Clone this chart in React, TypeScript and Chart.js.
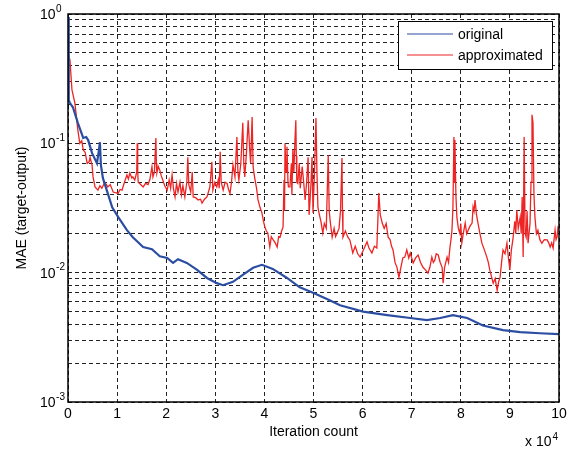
import React, { useEffect, useRef } from "react";
import { Chart, registerables } from "chart.js";
Chart.register(...registerables);

// iterations in units of 10^4
const iterOrig = [0, 0.01, 0.02, 0.04, 0.1, 0.2, 0.31, 0.37, 0.41, 0.49, 0.59, 0.63, 0.65, 0.67, 0.71, 0.81, 0.9, 1.02, 1.2, 1.32, 1.53, 1.71, 1.87, 2.02, 2.14, 2.24, 2.42, 2.63, 2.83, 3.03, 3.16, 3.36, 3.56, 3.77, 3.95, 4.17, 4.46, 4.72, 4.99, 5.34, 5.54, 6.01, 6.5, 6.97, 7.31, 7.58, 7.84, 8.13, 8.45, 8.86, 9.21, 9.61, 10];
const maeOrig = [0.95, 0.44, 0.216, 0.205, 0.19, 0.144, 0.11, 0.112, 0.106, 0.084, 0.07, 0.089, 0.102, 0.068, 0.054, 0.041, 0.032, 0.027, 0.0213, 0.0188, 0.0158, 0.0152, 0.0134, 0.013, 0.0119, 0.0127, 0.0119, 0.0105, 0.0091, 0.0083, 0.008, 0.0085, 0.0096, 0.0109, 0.0115, 0.0107, 0.0091, 0.0077, 0.007, 0.0061, 0.0056, 0.005, 0.0047, 0.00446, 0.0043, 0.00446, 0.0047, 0.00446, 0.0039, 0.0036, 0.00347, 0.0034, 0.00335];

const iterApprox = [0, 0.01, 0.04, 0.08, 0.14, 0.18, 0.2, 0.24, 0.28, 0.31, 0.35, 0.39, 0.43, 0.45, 0.49, 0.51, 0.55, 0.61, 0.65, 0.69, 0.75, 0.81, 0.86, 0.92, 1.02, 1.06, 1.1, 1.15, 1.2, 1.23, 1.26, 1.3, 1.32, 1.36, 1.4, 1.41, 1.42, 1.43, 1.48, 1.53, 1.58, 1.63, 1.67, 1.71, 1.73, 1.76, 1.79, 1.8, 1.81, 1.84, 1.87, 1.9, 1.93, 1.97, 2.02, 2.06, 2.09, 2.12, 2.15, 2.18, 2.21, 2.24, 2.28, 2.31, 2.34, 2.38, 2.42, 2.44, 2.46, 2.5, 2.53, 2.55, 2.6, 2.65, 2.7, 2.73, 2.78, 2.83, 2.86, 2.89, 2.93, 2.95, 2.99, 3.03, 3.06, 3.08, 3.1, 3.12, 3.16, 3.2, 3.24, 3.27, 3.3, 3.33, 3.36, 3.4, 3.44, 3.46, 3.48, 3.52, 3.56, 3.58, 3.6, 3.63, 3.67, 3.7, 3.72, 3.75, 3.77, 3.79, 3.81, 3.84, 3.87, 3.91, 3.95, 3.98, 4.01, 4.04, 4.07, 4.11, 4.14, 4.18, 4.22, 4.26, 4.29, 4.32, 4.35, 4.38, 4.4, 4.41, 4.42, 4.44, 4.46, 4.48, 4.49, 4.52, 4.55, 4.56, 4.58, 4.6, 4.62, 4.64, 4.65, 4.66, 4.68, 4.71, 4.73, 4.77, 4.8, 4.83, 4.86, 4.89, 4.91, 4.93, 4.95, 4.97, 4.99, 5.02, 5.05, 5.07, 5.09, 5.12, 5.15, 5.19, 5.22, 5.26, 5.3, 5.32, 5.34, 5.38, 5.42, 5.45, 5.48, 5.52, 5.55, 5.58, 5.59, 5.6, 5.65, 5.7, 5.74, 5.77, 5.8, 5.85, 5.9, 5.95, 6.0, 6.05, 6.09, 6.13, 6.19, 6.24, 6.29, 6.31, 6.33, 6.36, 6.4, 6.44, 6.48, 6.52, 6.56, 6.59, 6.62, 6.66, 6.7, 6.74, 6.78, 6.82, 6.86, 6.9, 6.94, 6.97, 7.0, 7.03, 7.08, 7.13, 7.18, 7.23, 7.28, 7.33, 7.37, 7.41, 7.44, 7.47, 7.5, 7.54, 7.58, 7.62, 7.64, 7.67, 7.72, 7.75, 7.78, 7.8, 7.82, 7.84, 7.86, 7.87, 7.88, 7.9, 7.92, 7.95, 7.98, 8.0, 8.02, 8.05, 8.09, 8.12, 8.15, 8.19, 8.23, 8.25, 8.27, 8.29, 8.32, 8.35, 8.39, 8.43, 8.48, 8.53, 8.56, 8.59, 8.62, 8.66, 8.7, 8.74, 8.77, 8.8, 8.83, 8.86, 8.9, 8.94, 8.97, 9.0, 9.03, 9.06, 9.1, 9.12, 9.14, 9.17, 9.21, 9.23, 9.25, 9.27, 9.29, 9.31, 9.33, 9.35, 9.37, 9.39, 9.41, 9.43, 9.45, 9.47, 9.49, 9.51, 9.54, 9.57, 9.61, 9.65, 9.7, 9.76, 9.79, 9.82, 9.85, 9.88, 9.92, 9.94, 9.96, 9.98, 10];
const maeApprox = [0.66, 0.48, 0.44, 0.26, 0.205, 0.15, 0.127, 0.1, 0.105, 0.089, 0.085, 0.07, 0.072, 0.078, 0.068, 0.055, 0.046, 0.0435, 0.047, 0.045, 0.05, 0.046, 0.048, 0.042, 0.041, 0.044, 0.0435, 0.05, 0.057, 0.053, 0.059, 0.054, 0.055, 0.052, 0.06, 0.1, 0.06, 0.05, 0.048, 0.046, 0.049, 0.048, 0.053, 0.066, 0.055, 0.06, 0.11, 0.07, 0.059, 0.066, 0.062, 0.056, 0.052, 0.047, 0.0435, 0.052, 0.045, 0.057, 0.044, 0.0385, 0.049, 0.042, 0.05, 0.04, 0.047, 0.0385, 0.05, 0.078, 0.048, 0.042, 0.06, 0.0385, 0.038, 0.0365, 0.037, 0.0345, 0.037, 0.0385, 0.042, 0.046, 0.072, 0.0435, 0.05, 0.046, 0.052, 0.045, 0.086, 0.05, 0.0435, 0.05, 0.049, 0.044, 0.041, 0.05, 0.068, 0.055, 0.112, 0.06, 0.052, 0.07, 0.144, 0.07, 0.055, 0.08, 0.151, 0.09, 0.07, 0.16, 0.066, 0.058, 0.052, 0.045, 0.0365, 0.032, 0.029, 0.025, 0.0225, 0.021, 0.0202, 0.0158, 0.019, 0.0179, 0.017, 0.0158, 0.019, 0.0188, 0.021, 0.0225, 0.052, 0.03, 0.1, 0.06, 0.094, 0.05, 0.046, 0.046, 0.07, 0.04, 0.089, 0.06, 0.1, 0.151, 0.08, 0.05, 0.049, 0.07, 0.045, 0.066, 0.05, 0.0365, 0.05, 0.078, 0.028, 0.0365, 0.05, 0.0783, 0.029, 0.06, 0.157, 0.06, 0.032, 0.028, 0.025, 0.0202, 0.024, 0.022, 0.081, 0.03, 0.025, 0.0188, 0.022, 0.019, 0.0202, 0.022, 0.03, 0.077, 0.03, 0.0188, 0.021, 0.0188, 0.0179, 0.016, 0.0142, 0.016, 0.014, 0.0132, 0.0145, 0.016, 0.0173, 0.0155, 0.0142, 0.016, 0.0155, 0.025, 0.0413, 0.028, 0.0242, 0.022, 0.024, 0.0188, 0.018, 0.016, 0.015, 0.012, 0.011, 0.0092, 0.011, 0.013, 0.0132, 0.015, 0.013, 0.0142, 0.013, 0.0119, 0.013, 0.0137, 0.012, 0.011, 0.0105, 0.0099, 0.011, 0.0132, 0.012, 0.0125, 0.014, 0.0137, 0.012, 0.011, 0.0083, 0.011, 0.0132, 0.012, 0.0158, 0.018, 0.0213, 0.0322, 0.112, 0.05, 0.106, 0.04, 0.0269, 0.022, 0.0202, 0.024, 0.0169, 0.02, 0.0242, 0.02, 0.0213, 0.023, 0.0242, 0.0322, 0.03, 0.0365, 0.028, 0.0242, 0.02, 0.0169, 0.015, 0.0132, 0.012, 0.0105, 0.0095, 0.0083, 0.009, 0.0073, 0.0085, 0.0092, 0.012, 0.015, 0.014, 0.0169, 0.013, 0.0105, 0.015, 0.0179, 0.025, 0.02, 0.0305, 0.022, 0.0269, 0.02, 0.0385, 0.0132, 0.112, 0.02, 0.0188, 0.03, 0.0169, 0.02, 0.0242, 0.05, 0.166, 0.144, 0.04, 0.0269, 0.02, 0.0213, 0.018, 0.0169, 0.018, 0.0179, 0.017, 0.0158, 0.017, 0.0155, 0.0213, 0.018, 0.0188, 0.0225, 0.022];

const seriesNames = ["original", "approximated"];
const seriesColors = ["#2b4ea2", "#ee2424"];
const xTicks = [0, 1, 2, 3, 4, 5, 6, 7, 8, 9, 10];
const yDecades = [0.001, 0.01, 0.1, 1];
const yDecadeExp = ["-3", "-2", "-1", "0"];
const xTitle = "Iteration count";
const yTitle = "MAE (target-output)";
const xMultiplier = ["x 10", "4"];

const FONT = '"Liberation Sans", Arial, Helvetica, sans-serif';

export default function App() {
  const ref = useRef<HTMLCanvasElement | null>(null);
  useEffect(() => {
    const canvas = ref.current;
    if (!canvas) return;

    const yGridTicks: number[] = [];
    for (let i = 0; i < yDecades.length - 1; i++) {
      for (let m = 1; m <= 9; m++) yGridTicks.push(+(m * yDecades[i]).toPrecision(3));
    }
    yGridTicks.push(yDecades[yDecades.length - 1]);

    const overlay = {
      id: "overlay",
      afterDraw(chart: any) {
        const ctx = chart.ctx as CanvasRenderingContext2D;
        const { left, right, top, bottom } = chart.chartArea;
        const xs = chart.scales.x;
        const ys = chart.scales.y;
        ctx.save();
        // frame
        ctx.strokeStyle = "#000";
        ctx.lineWidth = 1.5;
        ctx.setLineDash([]);
        ctx.strokeRect(left, top, right - left, bottom - top);

        ctx.fillStyle = "#000";
        // x tick labels
        ctx.font = "14px " + FONT;
        ctx.textAlign = "center";
        ctx.textBaseline = "middle";
        xTicks.forEach((t) => {
          ctx.fillText(String(t), xs.getPixelForValue(t), bottom + 12);
        });
        // y tick labels
        yDecades.forEach((d, i) => {
          const py = ys.getPixelForValue(d);
          ctx.font = "14px " + FONT;
          ctx.textAlign = "left";
          ctx.fillText("10", 40, py + 1);
          const w = ctx.measureText("10").width;
          ctx.font = "10px " + FONT;
          ctx.fillText(yDecadeExp[i], 40 + w + 0.5, py - 5);
        });
        // x multiplier
        ctx.font = "14px " + FONT;
        ctx.textAlign = "left";
        ctx.fillText(xMultiplier[0], 525, 442);
        const mw = ctx.measureText(xMultiplier[0]).width;
        ctx.font = "10px " + FONT;
        ctx.fillText(xMultiplier[1], 525 + mw + 1, 437);
        // axis titles
        ctx.font = "14px " + FONT;
        ctx.textAlign = "center";
        ctx.fillText(xTitle, (left + right) / 2, 432);
        ctx.save();
        ctx.translate(22, (top + bottom) / 2);
        ctx.rotate(-Math.PI / 2);
        ctx.fillText(yTitle, 0, 0);
        ctx.restore();

        // legend
        const lx = 398, ly = 21, lw = 154, lh = 48;
        ctx.fillStyle = "#fff";
        ctx.fillRect(lx, ly, lw, lh);
        ctx.strokeStyle = "#000";
        ctx.lineWidth = 1;
        ctx.strokeRect(lx + 0.5, ly + 0.5, lw, lh);
        seriesNames.forEach((name, i) => {
          const yy = ly + 13 + i * 21;
          ctx.strokeStyle = seriesColors[i];
          ctx.lineWidth = 1.2;
          ctx.beginPath();
          ctx.moveTo(lx + 9, yy);
          ctx.lineTo(lx + 55, yy);
          ctx.stroke();
          ctx.fillStyle = "#000";
          ctx.font = "14px " + FONT;
          ctx.textAlign = "left";
          ctx.fillText(name, lx + 60, yy + 1);
        });
        ctx.restore();
      },
    };

    const chart = new Chart(canvas, {
      type: "line",
      data: {
        datasets: [
          {
            label: seriesNames[0],
            data: iterOrig.map((x, i) => ({ x, y: maeOrig[i] })),
            borderColor: seriesColors[0],
            borderWidth: 2.2,
            pointRadius: 0,
            tension: 0,
          },
          {
            label: seriesNames[1],
            data: iterApprox.map((x, i) => ({ x, y: maeApprox[i] })),
            borderColor: seriesColors[1],
            borderWidth: 1.3,
            pointRadius: 0,
            tension: 0,
          },
        ],
      },
      options: {
        responsive: false,
        animation: false,
        layout: { padding: { left: 68, right: 18, top: 14, bottom: 49 } },
        plugins: { legend: { display: false }, tooltip: { enabled: false } },
        scales: {
          x: {
            type: "linear",
            min: 0,
            max: 10,
            afterBuildTicks: (s: any) => {
              s.ticks = xTicks.map((v) => ({ value: v }));
            },
            ticks: { display: false },
            grid: { color: "#222", lineWidth: 1, drawTicks: false },
            border: { display: false, dash: [4, 3] },
          },
          y: {
            type: "logarithmic",
            min: 0.001,
            max: 1,
            afterBuildTicks: (s: any) => {
              s.ticks = yGridTicks.map((v) => ({ value: v }));
            },
            ticks: { display: false },
            grid: { color: "#222", lineWidth: 1, drawTicks: false },
            border: { display: false, dash: [4, 3] },
          },
        },
      },
      plugins: [overlay],
    } as any);
    return () => chart.destroy();
  }, []);

  return (
    <div style={{ position: "absolute", left: 0, top: 0, width: 577, height: 451, background: "#fff" }}>
      <canvas ref={ref} width={577} height={451} style={{ display: "block" }} />
    </div>
  );
}
